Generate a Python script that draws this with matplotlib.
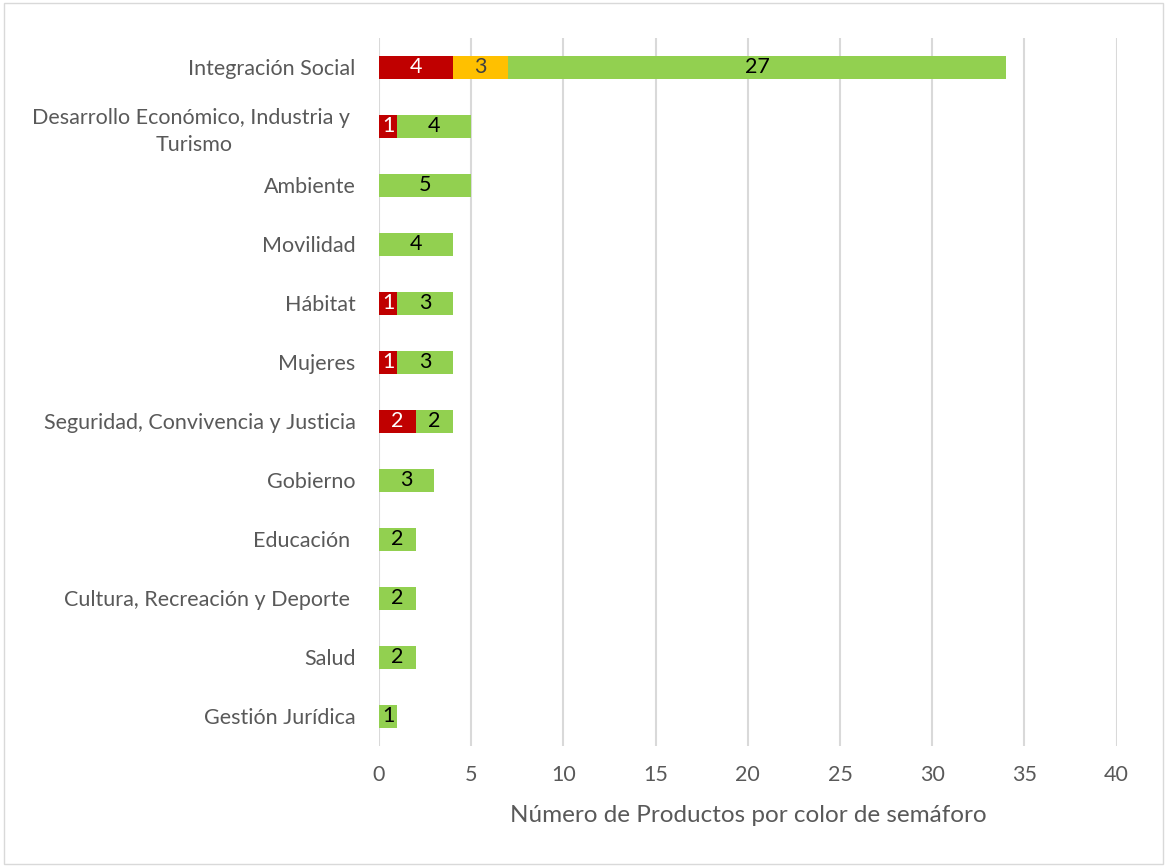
import numpy as np
import matplotlib.pyplot as plt
from matplotlib.patches import Rectangle

sectores = ['Integración Social', 'Desarrollo Económico, Industria y \nTurismo', 'Ambiente',
            'Movilidad', 'Hábitat', 'Mujeres', 'Seguridad, Convivencia y Justicia', 'Gobierno',
            'Educación ', 'Cultura, Recreación y Deporte ', 'Salud', 'Gestión Jurídica']
rojo = [4, 1, 0, 0, 1, 1, 2, 0, 0, 0, 0, 0]
amarillo = [3, 0, 0, 0, 0, 0, 0, 0, 0, 0, 0, 0]
verde = [27, 4, 5, 4, 3, 3, 2, 3, 2, 2, 2, 1]

plt.rcParams['font.family'] = ['Lato', 'DejaVu Sans']
gris = '#595959'

fig = plt.figure(figsize=(11.67, 8.67), dpi=100)
ax = fig.add_axes([0.3248, 0.140, 0.632, 0.8167])
fig.patches.append(Rectangle((0.003, 0.003), 0.994, 0.994, transform=fig.transFigure,
                             fill=False, edgecolor='#d9d9d9', linewidth=1))

y = np.arange(len(sectores))
rojo = np.array(rojo)
amarillo = np.array(amarillo)
verde = np.array(verde)
h = 0.39
series = [(rojo, 0, '#C00000', 'white'),
          (amarillo, rojo, '#FFC000', '#404040'),
          (verde, rojo + amarillo, '#92D050', 'black')]
for vals, left, col, tc in series:
    bars = ax.barh(y, vals, left=left, height=h, color=col, zorder=2)
    for b, v in zip(bars, vals):
        if v > 0:
            ax.text(b.get_x() + b.get_width() / 2, b.get_y() + b.get_height() / 2, str(v),
                    ha='center', va='center', color=tc, fontsize=15.5, zorder=3)

ax.set_xlim(0, 40)
ax.set_ylim(len(sectores) - 0.5, -0.5)
ax.set_xticks(range(0, 41, 5))
ax.set_yticks(y)
ax.set_yticklabels(sectores, fontsize=15.5, color=gris, ha='right', multialignment='center',
                   linespacing=1.45)
ax.tick_params(axis='y', length=0, pad=17)
ax.tick_params(axis='x', length=0, labelsize=15.5, labelcolor=gris, pad=14)
ax.xaxis.grid(True, color='#d9d9d9', linewidth=1.5, zorder=0)
ax.set_axisbelow(True)
for s in ax.spines.values():
    s.set_visible(False)
ax.set_xlabel('Número de Productos por color de semáforo', fontsize=17.5, color=gris, labelpad=14)

plt.savefig('out.png', dpi=100)
